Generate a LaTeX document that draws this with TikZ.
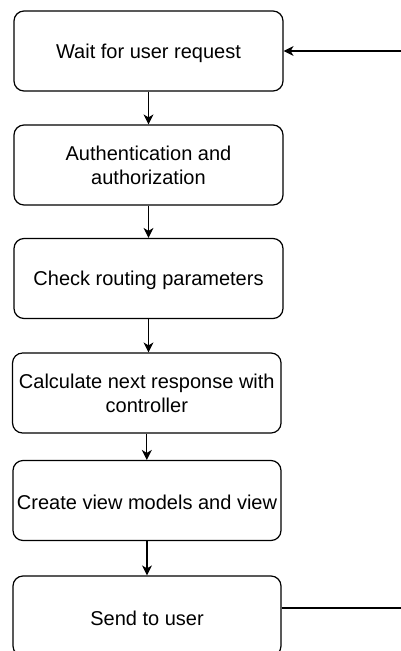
\documentclass[tikz,border=0pt]{standalone}
\usepackage{fontspec}
\setmainfont{Liberation Sans}
\usetikzlibrary{arrows.meta}
\begin{document}
\begin{tikzpicture}[x=1pt,y=-1pt,
  stepbox/.style={draw, line width=1.2pt, rounded corners=10pt,
    minimum height=80pt, align=center, inner sep=0pt,
    font=\fontsize{20}{24}\selectfont,
    execute at begin node={\rule{0pt}{19pt}}},
  flow/.style={line width=1.2pt, -{Stealth[length=10pt,width=10pt,inset=3pt]}},
  plain/.style={line width=1.2pt}]
\useasboundingbox (0,0) rectangle (401,651);
\node[stepbox, minimum width=269pt] (s1) at (148.5,51) {Wait for user request};
\node[stepbox, minimum width=269pt] (s2) at (148.5,165) {Authentication and\\authorization};
\node[stepbox, minimum width=269pt] (s3) at (148.5,278.5) {Check routing parameters};
\node[stepbox, minimum width=268.5pt] (s4) at (146.8,393) {Calculate next response with\\controller};
\node[stepbox, minimum width=268pt] (s5) at (147,500.5) {Create view models and view};
\node[stepbox, minimum width=268pt] (s6) at (147,616) {Send to user};
% vertical flow between steps
\draw[flow] (s1.south) -- (s1.south |- s2.north);
\draw[flow] (s2.south) -- (s2.south |- s3.north);
\draw[flow] (s3.south) -- (s3.south |- s4.north);
\draw[flow] (s4.south) -- (s4.south |- s5.north);
\draw[flow] (s5.south) -- (s5.south |- s6.north);
% loop back from the right edge
\coordinate (retin) at (401,51);
\coordinate (retout) at (401,608);
\draw[flow] (retin) -- (s1.east);
\draw[plain] ([yshift=8pt]s6.east) -- (retout);
\end{tikzpicture}
\end{document}
